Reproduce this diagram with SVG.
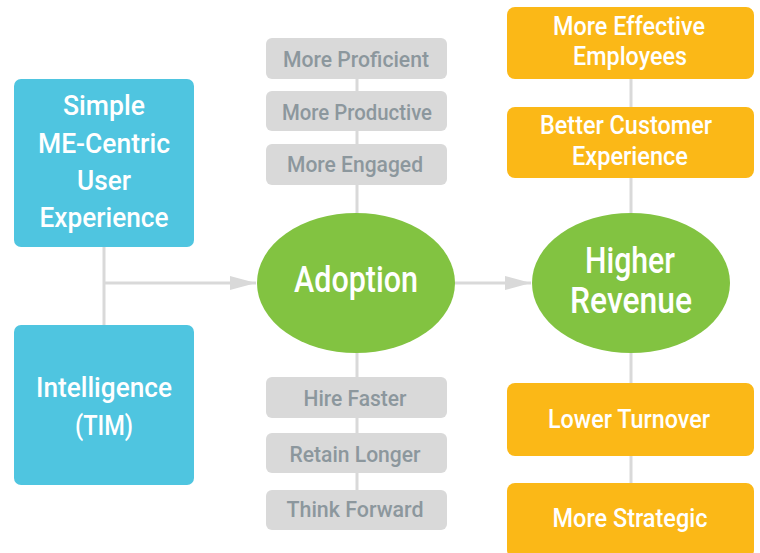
<svg xmlns="http://www.w3.org/2000/svg" width="760" height="553" viewBox="0 0 760 553">
<style>
.blue{fill:#4fc5e0}
.grey{fill:#d9d9d9}
.orange{fill:#fbb817}
.green{fill:#82c341}
.t{font-family:Roboto,"Liberation Sans",Arial,sans-serif;font-weight:500;fill:#ffffff;text-anchor:middle}
.g{font-family:Roboto,"Liberation Sans",Arial,sans-serif;font-weight:500;fill:#8c979d;text-anchor:middle;font-size:22px}
.ln{stroke:#d9d9d9;stroke-width:3;fill:none}
</style>
<defs>
<marker id="ah" markerWidth="26" markerHeight="14" refX="26" refY="7" orient="auto" markerUnits="userSpaceOnUse">
<path d="M0,0 L26,7 L0,14 Z" fill="#d9d9d9"/>
</marker>
</defs>
<rect width="760" height="553" fill="#ffffff"/>
<g id="connectors">
<line class="ln" x1="104" y1="247" x2="104" y2="325"/>
<line class="ln" x1="104" y1="283" x2="256" y2="283" marker-end="url(#ah)"/>
<line class="ln" x1="455" y1="283" x2="531" y2="283" marker-end="url(#ah)"/>
<line class="ln" x1="357" y1="79" x2="357" y2="91"/>
<line class="ln" x1="357" y1="131" x2="357" y2="144"/>
<line class="ln" x1="357" y1="185" x2="357" y2="214"/>
<line class="ln" x1="357" y1="352" x2="357" y2="377"/>
<line class="ln" x1="357" y1="418" x2="357" y2="433"/>
<line class="ln" x1="357" y1="473" x2="357" y2="490"/>
<line class="ln" x1="631" y1="79" x2="631" y2="107"/>
<line class="ln" x1="631" y1="178" x2="631" y2="214"/>
<line class="ln" x1="631" y1="352" x2="631" y2="383"/>
<line class="ln" x1="631" y1="456" x2="631" y2="483"/>
</g>
<g id="simple-ux">
<rect class="blue" x="14" y="79" width="180" height="168" rx="7"/>
<text class="t" font-size="28" x="104" y="115" textLength="82" lengthAdjust="spacingAndGlyphs">Simple</text>
<text class="t" font-size="28" x="104" y="153" textLength="132" lengthAdjust="spacingAndGlyphs">ME-Centric</text>
<text class="t" font-size="28" x="104" y="190" textLength="54" lengthAdjust="spacingAndGlyphs">User</text>
<text class="t" font-size="28" x="104" y="227" textLength="129" lengthAdjust="spacingAndGlyphs">Experience</text>
</g>
<g id="intelligence">
<rect class="blue" x="14" y="325" width="180" height="160" rx="7"/>
<text class="t" font-size="28" x="104" y="397" textLength="136" lengthAdjust="spacingAndGlyphs">Intelligence</text>
<text class="t" font-size="28" x="104" y="435" textLength="58" lengthAdjust="spacingAndGlyphs">(TIM)</text>
</g>
<g id="more-proficient">
<rect class="grey" x="266" y="38" width="181" height="41" rx="6"/>
<text class="g" x="356" y="67" textLength="146" lengthAdjust="spacingAndGlyphs">More Proficient</text>
</g>
<g id="more-productive">
<rect class="grey" x="266" y="91" width="181" height="40" rx="6"/>
<text class="g" x="357" y="120" textLength="150" lengthAdjust="spacingAndGlyphs">More Productive</text>
</g>
<g id="more-engaged">
<rect class="grey" x="266" y="144" width="181" height="41" rx="6"/>
<text class="g" x="355" y="172" textLength="136" lengthAdjust="spacingAndGlyphs">More Engaged</text>
</g>
<g id="hire-faster">
<rect class="grey" x="266" y="377" width="181" height="41" rx="6"/>
<text class="g" x="355" y="406" textLength="103" lengthAdjust="spacingAndGlyphs">Hire Faster</text>
</g>
<g id="retain-longer">
<rect class="grey" x="266" y="433" width="181" height="40" rx="6"/>
<text class="g" x="355" y="462" textLength="131" lengthAdjust="spacingAndGlyphs">Retain Longer</text>
</g>
<g id="think-forward">
<rect class="grey" x="266" y="490" width="181" height="40" rx="6"/>
<text class="g" x="355" y="517" textLength="137" lengthAdjust="spacingAndGlyphs">Think Forward</text>
</g>
<g id="adoption">
<ellipse class="green" cx="356" cy="283" rx="99" ry="70"/>
<text class="t" font-size="36" x="356" y="292" textLength="124" lengthAdjust="spacingAndGlyphs">Adoption</text>
</g>
<g id="higher-revenue">
<ellipse class="green" cx="631" cy="283" rx="99" ry="70"/>
<text class="t" font-size="36" x="630" y="273" textLength="90" lengthAdjust="spacingAndGlyphs">Higher</text>
<text class="t" font-size="36" x="631" y="313" textLength="122" lengthAdjust="spacingAndGlyphs">Revenue</text>
</g>
<g id="more-effective">
<rect class="orange" x="507" y="7" width="247" height="72" rx="8"/>
<text class="t" font-size="25" x="629" y="35" textLength="152" lengthAdjust="spacingAndGlyphs">More Effective</text>
<text class="t" font-size="25" x="630" y="65" textLength="114" lengthAdjust="spacingAndGlyphs">Employees</text>
</g>
<g id="better-cx">
<rect class="orange" x="507" y="107" width="247" height="71" rx="8"/>
<text class="t" font-size="25" x="626" y="134" textLength="172" lengthAdjust="spacingAndGlyphs">Better Customer</text>
<text class="t" font-size="25" x="630" y="165" textLength="116" lengthAdjust="spacingAndGlyphs">Experience</text>
</g>
<g id="lower-turnover">
<rect class="orange" x="507" y="383" width="247" height="73" rx="8"/>
<text class="t" font-size="25" x="629" y="428" textLength="162" lengthAdjust="spacingAndGlyphs">Lower Turnover</text>
</g>
<g id="more-strategic">
<rect class="orange" x="507" y="483" width="247" height="75" rx="8"/>
<text class="t" font-size="25" x="630" y="527" textLength="155" lengthAdjust="spacingAndGlyphs">More Strategic</text>
</g>
</svg>
